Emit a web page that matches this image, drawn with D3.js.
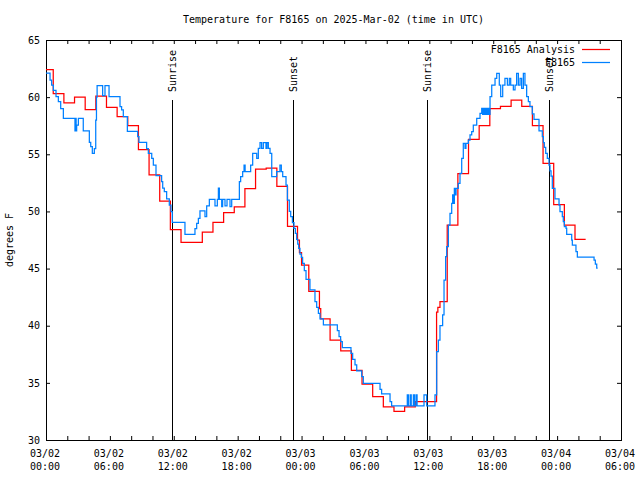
<!DOCTYPE html>
<html><head><meta charset="utf-8">
<script src="https://cdn.jsdelivr.net/npm/d3@7/dist/d3.min.js"></script>
<style>
body{margin:0;background:#fff;}
text{font-family:"DejaVu Sans Mono","Liberation Mono",monospace;font-size:10px;fill:#000;}
</style></head><body>
<svg id="c" width="640" height="480"></svg>
<script>
// ---- data (hours since 2025-03-02 00:00 UTC) ----
const titleText = "Temperature for F8165 on 2025-Mar-02 (time in UTC)";
const seriesNames = ["F8165 Analysis", "F8165"];
const seriesColors = ["#ff0000", "#0080ff"];

const redHours = [0, 0.68, 1.68, 2.68, 3.68, 4.68, 5.68, 6.68, 7.68, 8.68, 9.68, 10.68, 11.68, 12.68, 14.68, 15.68, 16.68, 17.68, 18.68, 19.68, 20.68, 21.68, 22.68, 23.62, 23.8, 24.0, 24.68, 25.68, 25.8, 26.68, 27.68, 28.68, 29.68, 30.68, 31.68, 32.68, 33.68, 34.68, 36.68, 36.8, 37.0, 37.68, 38.68, 39.68, 40.68, 41.68, 42.68, 43.68, 44.68, 45.68, 46.68, 47.68, 48.68, 49.68, 50.68];
const redTemps = [62.4, 60.3, 59.5, 60.0, 58.9, 60.1, 59.1, 58.3, 57.5, 55.4, 53.2, 50.9, 48.4, 47.3, 48.2, 49.05, 49.9, 50.4, 52.0, 53.7, 53.8, 52.2, 48.7, 47.5, 46.4, 45.3, 43.0, 41.5, 40.6, 38.75, 37.8, 36.1, 34.9, 33.8, 32.9, 32.5, 32.9, 33.35, 41.2, 41.6, 42.1, 48.8, 53.3, 56.3, 57.5, 59.0, 59.2, 59.75, 59.2, 57.5, 54.2, 50.6, 48.8, 47.55, 47.55];

const blueHours = [0, 0.38, 0.53, 0.69, 0.94, 1.16, 1.38, 1.63, 2.72, 2.77, 2.83, 2.88, 3.04, 3.5, 4.07, 4.2, 4.35, 4.54, 4.67, 4.74, 4.8, 5.32, 5.54, 5.92, 6.95, 7.1, 7.26, 7.64, 8.61, 8.73, 9.45, 9.61, 9.93, 10.08, 10.33, 10.86, 10.96, 11.11, 11.33, 11.58, 11.74, 11.86, 13.05, 13.99, 14.15, 14.31, 14.46, 14.93, 15.09, 15.34, 15.87, 16.09, 16.19, 16.28, 16.5, 16.59, 16.81, 17.0, 17.28, 17.44, 18.16, 18.28, 18.47, 18.6, 18.7, 19.22, 19.41, 19.79, 19.94, 20.1, 20.25, 20.41, 20.66, 20.75, 20.88, 21.04, 21.2, 21.66, 21.97, 22.1, 22.23, 22.54, 22.67, 22.85, 22.98, 23.14, 23.29, 23.42, 23.54, 23.64, 23.73, 23.85, 23.98, 24.1, 24.26, 24.42, 24.79, 25.26, 25.42, 25.58, 25.73, 26.05, 27.36, 27.52, 27.67, 27.83, 28.64, 28.8, 29.02, 29.18, 29.65, 29.8, 31.37, 31.52, 32.31, 32.46, 33.93, 34.03, 34.2, 34.3, 34.5, 34.6, 34.75, 34.85, 35.5, 35.75, 36.53, 36.69, 36.85, 37.0, 37.25, 37.38, 37.53, 37.63, 37.79, 37.94, 38.1, 38.19, 38.25, 38.35, 38.45, 38.51, 38.72, 38.88, 39.04, 39.19, 39.35, 39.44, 39.66, 39.82, 39.98, 40.13, 40.45, 40.76, 40.92, 41.0, 41.1, 41.2, 41.3, 41.4, 41.5, 41.6, 41.7, 41.86, 42.17, 42.33, 42.57, 42.7, 42.89, 43.1, 43.33, 43.51, 43.64, 43.89, 44.05, 44.2, 44.36, 44.52, 44.67, 44.83, 44.98, 45.14, 45.3, 45.45, 45.67, 45.83, 46.3, 46.61, 46.71, 46.8, 46.93, 47.08, 47.24, 47.33, 47.43, 47.55, 47.8, 48.18, 48.27, 48.49, 48.58, 48.68, 48.84, 48.9, 49.37, 49.43, 49.77, 49.9, 51.47, 51.59, 51.72, 51.81];
const blueTemps = [62.1, 61.5, 61.06, 60.6, 60.04, 59.6, 59.0, 58.15, 57.04, 58.15, 57.04, 57.56, 58.15, 57.04, 56.05, 55.67, 55.09, 55.5, 58.0, 60.0, 61.0, 60.13, 61.0, 60.04, 59.17, 58.88, 58.3, 57.0, 56.54, 56.05, 55.5, 55.08, 54.65, 54.06, 53.13, 52.6, 52.03, 51.73, 51.09, 50.56, 49.98, 49.05, 48.0, 48.5, 48.96, 49.4, 50.04, 49.54, 50.48, 51.06, 50.48, 51.06, 52.03, 51.06, 50.42, 51.06, 50.48, 51.06, 50.42, 51.06, 52.6, 53.04, 53.48, 54.06, 53.48, 54.06, 55.09, 54.65, 55.52, 56.02, 55.52, 56.02, 55.52, 56.02, 55.52, 55.09, 53.04, 53.48, 54.06, 53.48, 53.04, 52.3, 51.0, 50.0, 49.54, 49.02, 48.52, 48.08, 47.56, 47.15, 46.77, 46.27, 45.98, 45.45, 44.82, 44.06, 43.13, 42.1, 41.61, 41.09, 40.59, 40.07, 39.57, 39.04, 38.6, 38.08, 37.59, 37.06, 36.57, 36.04, 35.54, 34.96, 34.44, 34.03, 33.36, 32.98, 33.94, 32.98, 33.94, 32.98, 33.94, 32.98, 33.94, 32.98, 33.94, 32.98, 33.94, 37.73, 38.75, 40.0, 40.94, 44.0, 46.04, 46.92, 48.81, 49.84, 50.71, 51.44, 50.71, 52.02, 51.44, 52.02, 52.46, 53.34, 54.65, 55.96, 55.52, 55.96, 56.25, 56.69, 56.98, 57.56, 58.15, 58.59, 59.02, 58.5, 59.02, 58.5, 59.02, 58.5, 59.02, 58.5, 60.04, 61.06, 61.65, 62.09, 61.06, 60.04, 61.06, 61.65, 61.06, 61.65, 61.06, 60.63, 61.06, 62.09, 61.06, 61.65, 60.77, 62.09, 61.06, 60.04, 59.6, 59.17, 58.53, 58.06, 57.04, 56.54, 56.02, 55.61, 55.09, 54.65, 54.06, 53.54, 53.1, 52.02, 51.09, 50.56, 49.98, 49.54, 49.1, 48.67, 48.52, 48.0, 47.5, 47.06, 46.48, 46.01, 45.75, 45.4, 45.03, 45.03];

const sunLabels = ["Sunrise", "Sunset", "Sunrise", "Sunset"];
const sunHours = [11.86, 23.22, 35.81, 47.27];

const xLabelHours = [0, 6, 12, 18, 24, 30, 36, 42, 48, 54];
const xLabelDates = ["03/02", "03/02", "03/02", "03/02", "03/03", "03/03", "03/03", "03/03", "03/04", "03/04"];
const xLabelTimes = ["00:00", "06:00", "12:00", "18:00", "00:00", "06:00", "12:00", "18:00", "00:00", "06:00"];
const xMinorHours = [0, 2, 4, 6, 8, 10, 12, 14, 16, 18, 20, 22, 24, 26, 28, 30, 32, 34, 36, 38, 40, 42, 44, 46, 48, 50, 52, 54];
const yTickValues = [30, 35, 40, 45, 50, 55, 60, 65];
const yLabel = "degrees F";

// ---- layout ----
const L = 46, R = 621, T = 40, B = 440;
const svg = d3.select("#c");
svg.append("rect").attr("width", 640).attr("height", 480).attr("fill", "#fff");

const x = d3.scaleLinear().domain([0, 54]).range([L, R]);
const y = d3.scaleLinear().domain([30, 65]).range([B, T]);

// axes (inward ticks, mirrored)
function clean(g) { g.select(".domain").remove(); g.selectAll(".tick line").attr("stroke", "#000"); }
svg.append("g").attr("transform", `translate(0,${B})`)
  .call(d3.axisBottom(x).tickValues(xMinorHours).tickSize(-4).tickFormat(""))
  .call(clean);
svg.append("g").attr("transform", `translate(0,${T})`)
  .call(d3.axisTop(x).tickValues(xMinorHours).tickSize(-4).tickFormat(""))
  .call(clean);
svg.append("g").attr("transform", `translate(${L},0)`)
  .call(d3.axisLeft(y).tickValues(yTickValues).tickSize(-4).tickPadding(8).tickFormat(d3.format("d")))
  .call(clean)
  .call(g => g.selectAll("text").attr("font-family", null).attr("font-size", null).attr("x", -6));
svg.append("g").attr("transform", `translate(${R},0)`)
  .call(d3.axisRight(y).tickValues(yTickValues).tickSize(-4).tickFormat(""))
  .call(clean);

// x labels (two lines)
const xl = svg.append("g");
xLabelHours.forEach((h, i) => {
  const t = xl.append("text").attr("text-anchor", "middle").attr("x", x(h) - 1);
  t.append("tspan").attr("x", x(h) - 1).attr("y", 457).text(xLabelDates[i]);
  t.append("tspan").attr("x", x(h) - 1).attr("y", 470).text(xLabelTimes[i]);
});

// border
svg.append("rect").attr("x", L + 0.5).attr("y", T + 0.5).attr("width", R - L).attr("height", B - T)
  .attr("fill", "none").attr("stroke", "#000").attr("stroke-width", 1);

// sunrise/sunset
sunHours.forEach((h, i) => {
  const xp = Math.round(x(h)) + 0.5;
  svg.append("line").attr("x1", xp).attr("x2", xp).attr("y1", 100).attr("y2", B)
    .attr("stroke", "#000").attr("stroke-width", 1);
  svg.append("text").attr("transform", `translate(${xp + 3.5},92) rotate(-90)`)
    .attr("text-anchor", "start").text(sunLabels[i]);
});

// series
const line = d3.line().curve(d3.curveStepAfter).x(d => x(d[0])).y(d => y(d[1]));
const redData = redHours.map((h, i) => [h, redTemps[i]]);
const blueData = blueHours.map((h, i) => [h, blueTemps[i]]);
svg.append("path").datum(redData).attr("d", line).attr("fill", "none")
  .attr("stroke", seriesColors[0]).attr("stroke-width", 1.25);
svg.append("path").datum(blueData).attr("d", line).attr("fill", "none")
  .attr("stroke", seriesColors[1]).attr("stroke-width", 1.25);

// title
svg.append("text").attr("x", (L + R) / 2).attr("y", 23).attr("text-anchor", "middle").text(titleText);

// y label
svg.append("text").attr("transform", "translate(13,240) rotate(-90)").attr("text-anchor", "middle").text(yLabel);

// legend
seriesNames.forEach((n, i) => {
  const ly = 49 + i * 13;
  svg.append("text").attr("x", 575).attr("y", ly + 3.5).attr("text-anchor", "end").text(n);
  svg.append("line").attr("x1", 582).attr("x2", 610).attr("y1", ly + 0.5).attr("y2", ly + 0.5)
    .attr("stroke", seriesColors[i]).attr("stroke-width", 1.25);
});
</script>
</body></html>
